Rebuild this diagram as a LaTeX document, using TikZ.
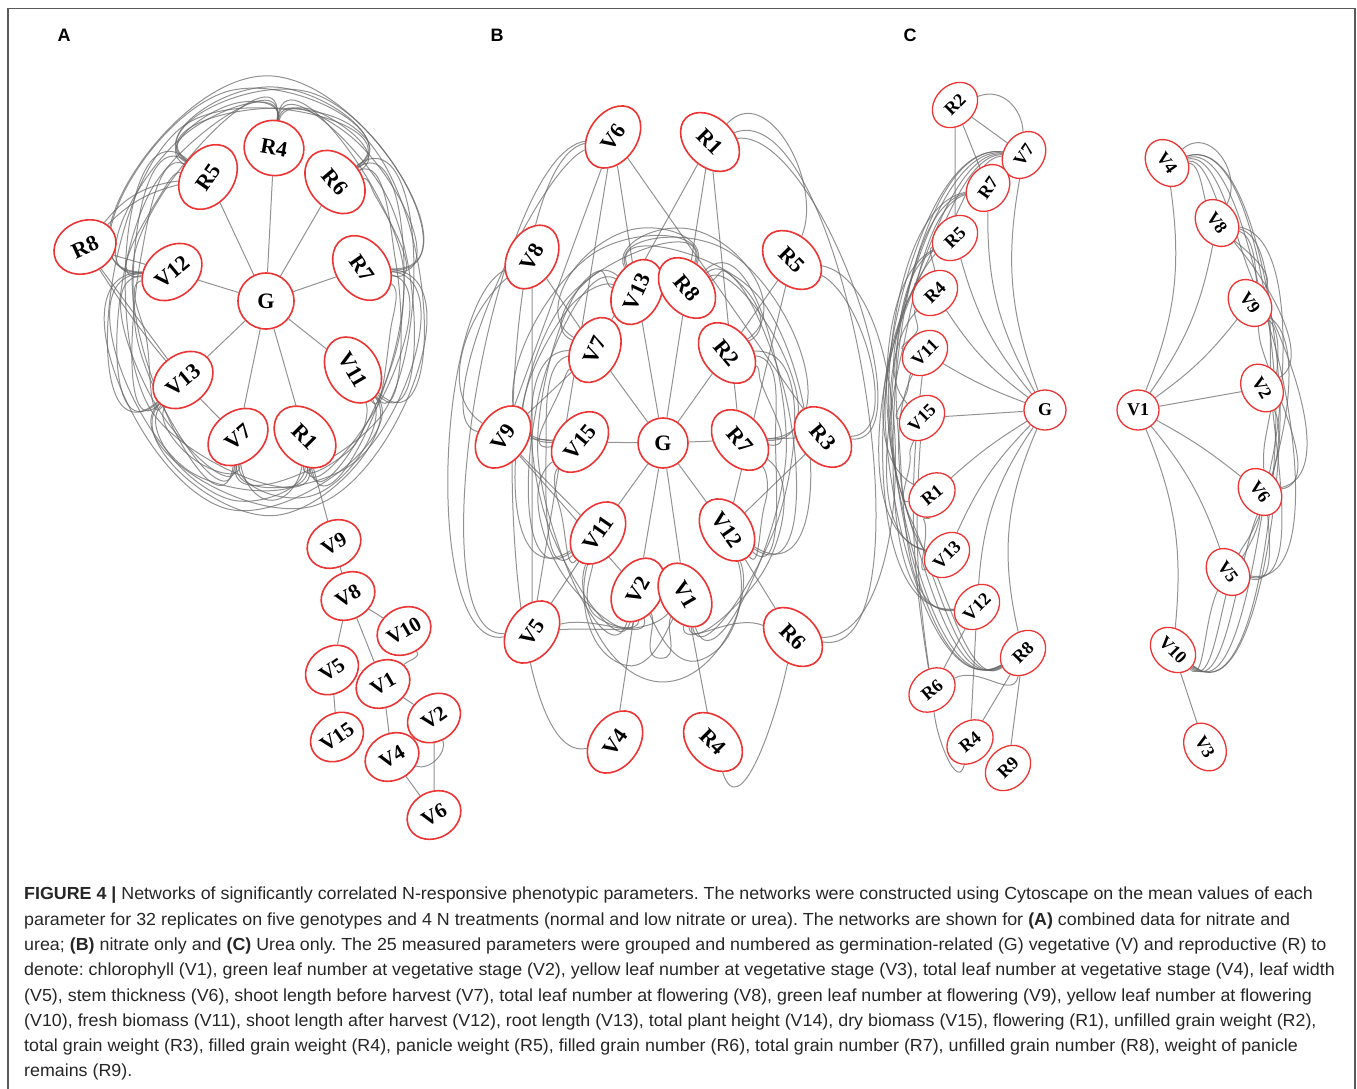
\documentclass[tikz,border=0pt]{standalone}
\usepackage{fontspec}
\setmainfont{Liberation Serif}
\newfontfamily\capfont{Liberation Sans}[FakeStretch=1.02]
\newfontfamily\lblfont{Liberation Sans}
\usetikzlibrary{shapes.geometric,calc}
\pgfdeclarelayer{background}
\pgfsetlayers{background,main}
\definecolor{nodered}{RGB}{236,52,52}
\definecolor{edgegray}{RGB}{100,100,100}
\definecolor{framegray}{RGB}{90,90,90}
\tikzset{
 nd/.style={ellipse, draw=nodered, line width=1.6pt, fill=white, inner sep=0pt, font=\bfseries\fontsize{22}{22}\selectfont},
 nA/.style={nd, minimum width=70pt, minimum height=52pt},
 nAs/.style={nd, minimum width=56pt, minimum height=46pt, font=\bfseries\fontsize{21}{21}\selectfont},
 nB/.style={nd, minimum width=68pt, minimum height=48pt},
 nC/.style={nd, minimum width=50pt, minimum height=40pt, line width=1.3pt, font=\bfseries\fontsize{18}{18}\selectfont},
 lnk/.style={draw=edgegray, line width=1pt, opacity=0.7},
 panel/.style={font=\lblfont\bfseries\fontsize{18}{18}\selectfont},
}
\def\reDelta{0}
\def\reLoose{1}
% ring edge: #1 centre, #2 node a, #3 angle a, #4 node b, #5 angle b, #6 rx, #7 ry, #8 scale
\newcommand\ringedge[8]{%
  \pgfmathsetmacro\reMid{(#3+#5)/2}%
  \pgfmathsetmacro\reIn{\reMid-90}%
  \pgfmathsetmacro\reOut{\reMid+90}%
  \pgfmathsetmacro\reA{#3+\reDelta}%
  \pgfmathsetmacro\reB{#5-\reDelta}%
  \pgfmathsetmacro\reRx{#6*#8}%
  \pgfmathsetmacro\reRy{#7*#8}%
  \draw[lnk] (#2) to[out=\reA,in=\reIn,looseness=\reLoose] ($(#1)+(\reMid:\reRx pt and \reRy pt)$) to[out=\reOut,in=\reB,looseness=\reLoose] (#4);%
}
\newcommand\Aedge[5]{\ringedge{oA}{#1}{#2}{#3}{#4}{135}{220}{#5}}
\newcommand\Bedge[5]{\ringedge{oB}{#1}{#2}{#3}{#4}{122}{237}{#5}}
\newcommand\CLedge[5]{\ringedge{oCL}{#1}{#2}{#3}{#4}{160}{270}{#5}}
\newcommand\CRedge[5]{\ringedge{oCR}{#1}{#2}{#3}{#4}{142}{268}{#5}}
\begin{document}
\begin{tikzpicture}[x=1pt,y=1pt]
\useasboundingbox (0,0) rectangle (1357,-1089);
\draw[framegray, line width=1.2pt] (8,-1095) -- (8,-8.5) -- (1355,-8.5) -- (1355,-1095);
\node[panel] (lA) at (64,-35) {A};
\node[panel] (lB) at (497,-35) {B};
\node[panel] (lC) at (910,-35) {C};
\coordinate (oA) at (268,-298);
\coordinate (oB) at (662,-445);
\coordinate (oCL) at (1045,-410);
\coordinate (oCR) at (1138,-410);
% ---------------- Panel A nodes
\node[nA, minimum width=56pt, minimum height=56pt] (aG) at (266,-301) {G};
\node[nA, rotate=-10, minimum width=60pt, minimum height=55pt] (aR4) at (274,-148) {R4};
\node[nA, rotate=55] (aR5) at (208,-177) {R5};
\node[nA, rotate=-50] (aR6) at (335,-182) {R6};
\node[nA, rotate=-55] (aR7) at (362,-268) {R7};
\node[nA, rotate=25, minimum width=64pt] (aR8) at (85,-247) {R8};
\node[nA, rotate=40, minimum width=66pt, minimum height=50pt] (aV12) at (172,-272) {V12};
\node[nA, rotate=40, minimum width=66pt, minimum height=50pt] (aV13) at (183,-380) {V13};
\node[nA, rotate=-60] (aV11) at (353,-370) {V11};
\node[nA, rotate=40, minimum width=66pt, minimum height=50pt] (aV7) at (238,-437) {V7};
\node[nA, rotate=-45] (aR1) at (305,-437) {R1};
\node[nAs, rotate=30] (aV9) at (334,-544) {V9};
\node[nAs, rotate=30] (aV8) at (348,-596) {V8};
\node[nAs, rotate=30] (aV10) at (404,-631) {V10};
\node[nAs, rotate=35] (aV5) at (332,-670) {V5};
\node[nAs, rotate=30] (aV1) at (383,-684) {V1};
\node[nAs, rotate=35] (aV2) at (434,-718) {V2};
\node[nAs, rotate=35] (aV15) at (337,-737) {V15};
\node[nAs, rotate=30] (aV4) at (392,-757) {V4};
\node[nAs, rotate=30] (aV6) at (434,-815) {V6};
% ---------------- Panel B nodes
\node[nB, rotate=55] (bV6) at (613,-137) {V6};
\node[nB, rotate=-45] (bR1) at (710,-142) {R1};
\node[nB, rotate=60] (bV8) at (532,-257) {V8};
\node[nB, rotate=-45] (bR5) at (792,-260) {R5};
\node[nB, rotate=65] (bV13) at (637,-292) {V13};
\node[nB, rotate=-50] (bR8) at (687,-288) {R8};
\node[nB, rotate=65] (bV7) at (595,-350) {V7};
\node[nB, rotate=-50] (bR2) at (727,-353) {R2};
\node[nB, rotate=55] (bV9) at (503,-437) {V9};
\node[nB, rotate=50] (bV15) at (580,-442) {V15};
\node[nB, minimum width=50pt, minimum height=50pt] (bG) at (663,-443) {G};
\node[nB, rotate=-50] (bR7) at (740,-440) {R7};
\node[nB, rotate=-50] (bR3) at (823,-437) {R3};
\node[nB, rotate=55] (bV11) at (598,-533) {V11};
\node[nB, rotate=-55] (bV12) at (727,-530) {V12};
\node[nB, rotate=60] (bV2) at (638,-590) {V2};
\node[nB, rotate=-60] (bV1) at (685,-595) {V1};
\node[nB, rotate=55] (bV5) at (532,-632) {V5};
\node[nB, rotate=-45] (bR6) at (793,-637) {R6};
\node[nB, rotate=55] (bV4) at (615,-742) {V4};
\node[nB, rotate=-45] (bR4) at (713,-742) {R4};
% ---------------- Panel C nodes
\node[nC, rotate=45] (cR2) at (955,-105) {R2};
\node[nC, rotate=55] (cV7) at (1024,-155) {V7};
\node[nC, rotate=55] (cR7) at (988,-188) {R7};
\node[nC, rotate=45] (cR5) at (955,-238) {R5};
\node[nC, rotate=45] (cR4) at (935,-293) {R4};
\node[nC, rotate=45] (cV11) at (925,-353) {V11};
\node[nC, rotate=45] (cV15) at (922,-418) {V15};
\node[nC, minimum width=42pt, minimum height=40pt] (cG) at (1045,-410) {G};
\node[nC, rotate=40] (cR1) at (932,-495) {R1};
\node[nC, rotate=45] (cV13) at (947,-555) {V13};
\node[nC, rotate=45] (cV12) at (977,-607) {V12};
\node[nC, rotate=45] (cR8) at (1023,-653) {R8};
\node[nC, rotate=40] (cR6) at (932,-690) {R6};
\node[nC, rotate=40] (cR4b) at (970,-742) {R4};
\node[nC, rotate=45] (cR9) at (1008,-768) {R9};
\node[nC, minimum width=42pt, minimum height=40pt] (cV1) at (1138,-410) {V1};
\node[nC, rotate=-55] (cV4) at (1167,-163) {V4};
\node[nC, rotate=-55] (cV8) at (1217,-223) {V8};
\node[nC, rotate=-55] (cV9) at (1250,-303) {V9};
\node[nC, rotate=-60] (cV2) at (1262,-388) {V2};
\node[nC, rotate=-55] (cV6) at (1260,-492) {V6};
\node[nC, rotate=-55] (cV5) at (1228,-572) {V5};
\node[nC, rotate=-45] (cV10) at (1173,-650) {V10};
\node[nC, rotate=-60] (cV3) at (1205,-747) {V3};
% ---------------- caption
\node[anchor=north west, inner sep=0pt, align=left, text=black!85, font=\capfont\fontsize{17.5}{25.3}\selectfont\frenchspacing] (cap) at (24,-887) {%
\textbf{FIGURE 4 |} Networks of significantly correlated N-responsive phenotypic parameters. The networks were constructed using Cytoscape on the mean values of each\\
parameter for 32 replicates on five genotypes and 4 N treatments (normal and low nitrate or urea). The networks are shown for \textbf{(A)} combined data for nitrate and\\
urea; \textbf{(B)} nitrate only and \textbf{(C)} Urea only. The 25 measured parameters were grouped and numbered as germination-related (G) vegetative (V) and reproductive (R) to\\
denote: chlorophyll (V1), green leaf number at vegetative stage (V2), yellow leaf number at vegetative stage (V3), total leaf number at vegetative stage (V4), leaf width\\
(V5), stem thickness (V6), shoot length before harvest (V7), total leaf number at flowering (V8), green leaf number at flowering (V9), yellow leaf number at flowering\\
(V10), fresh biomass (V11), shoot length after harvest (V12), root length (V13), total plant height (V14), dry biomass (V15), flowering (R1), unfilled grain weight (R2),\\
total grain weight (R3), filled grain weight (R4), panicle weight (R5), filled grain number (R6), total grain number (R7), unfilled grain number (R8), weight of panicle\\
remains (R9).};
% ================= edges
\begin{pgfonlayer}{background}
% ---- Panel A
\foreach \n in {aR4,aR5,aR6,aR7,aV12,aV13,aV11,aV7,aR1} \draw[lnk] (aG) -- (\n);
\def\reDelta{0}\def\reLoose{1}
\Aedge{aV11}{-29}{aR7}{12}{0.92}
\Aedge{aR7}{12}{aR6}{49}{0.92}
\Aedge{aR6}{49}{aR4}{86.5}{0.92}
\Aedge{aR4}{86.5}{aR5}{127}{0.92}
\Aedge{aR5}{127}{aV12}{170}{0.92}
\Aedge{aV12}{170}{aV13}{212}{0.92}
\Aedge{aV13}{212}{aV7}{252}{0.92}
\Aedge{aV7}{252}{aR1}{292}{0.92}
\Aedge{aR1}{292}{aV11}{331}{0.92}
\Aedge{aV11}{-29}{aR6}{49}{0.96}
\Aedge{aR7}{12}{aR4}{86.5}{0.96}
\Aedge{aR6}{49}{aR5}{127}{0.96}
\Aedge{aR4}{86.5}{aV12}{170}{0.96}
\Aedge{aR5}{127}{aV13}{212}{0.96}
\Aedge{aV12}{170}{aV7}{252}{0.96}
\Aedge{aV13}{212}{aR1}{292}{0.96}
\Aedge{aV7}{252}{aV11}{331}{0.96}
\Aedge{aR1}{292}{aR7}{372}{0.96}
\Aedge{aV11}{-29}{aR4}{86.5}{0.99}
\Aedge{aR7}{12}{aR5}{127}{0.99}
\Aedge{aR6}{49}{aV12}{170}{0.99}
\Aedge{aR4}{86.5}{aV13}{212}{0.99}
\Aedge{aR5}{127}{aV7}{252}{0.99}
\Aedge{aV12}{170}{aR1}{292}{0.99}
\Aedge{aV13}{212}{aV11}{331}{0.99}
\Aedge{aV7}{252}{aR7}{372}{0.99}
\Aedge{aR1}{292}{aR6}{409}{0.99}
\Aedge{aV11}{-29}{aR5}{127}{1.01}
\Aedge{aR7}{12}{aV12}{170}{1.01}
\Aedge{aR6}{49}{aV13}{212}{1.01}
\Aedge{aR4}{86.5}{aV7}{252}{1.01}
\Aedge{aR5}{127}{aR1}{292}{1.01}
\Aedge{aV12}{170}{aV11}{331}{1.01}
\Aedge{aV13}{212}{aR7}{372}{1.01}
\Aedge{aV7}{252}{aR6}{409}{1.01}
\Aedge{aR1}{292}{aR4}{446.5}{1.01}
\draw[lnk] (aR8) -- (aV12);
\draw[lnk] (aR8) to[bend left=15] (aR5);
\draw[lnk] (aR8) to[bend left=22] (aR5);
\draw[lnk] (aR8) -- (aV13);
\draw[lnk] (aR8) to[bend right=6] (aV7);
\draw[lnk] (aR1) -- (aV9);
\draw[lnk] (aV9) -- (aV8);
\draw[lnk] (aV8) -- (aV10);
\draw[lnk] (aV8) -- (aV5);
\draw[lnk] (aV8) -- (aV1);
\draw[lnk] (aV5) -- (aV15);
\draw[lnk] (aV1) -- (aV4);
\draw[lnk] (aV1) -- (aV2);
\draw[lnk] (aV10) to[out=-80,in=20] (aV1);
\draw[lnk] (aV2) -- (aV6);
\draw[lnk] (aV4) -- (aV6);
\draw[lnk] (aV4) to[out=-40,in=-90] (aV2);
% ---- Panel B
\foreach \n in {bV13,bR8,bV7,bR2,bV15,bR7,bV11,bV12,bV2,bV1} \draw[lnk] (bG) -- (\n);
\def\reDelta{15}\def\reLoose{1}
\Bedge{bV13}{107.6}{bV7}{143.9}{0.9}
\Bedge{bV13}{107.6}{bV15}{178.9}{0.96}
\Bedge{bV13}{107.6}{bV11}{215.3}{1.0}
\Bedge{bV13}{107.6}{bV2}{252.2}{1.02}
\Bedge{bR2}{36}{bV13}{107.6}{0.95}
\Bedge{bR7}{1.9}{bV13}{107.6}{0.99}
\Bedge{bV12}{-34}{bV13}{107.6}{1.02}
\Bedge{bR8}{72.8}{bV7}{143.9}{0.95}
\Bedge{bR8}{72.8}{bV15}{178.9}{0.99}
\Bedge{bR8}{72.8}{bV11}{215.3}{1.01}
\Bedge{bR2}{36}{bR8}{72.8}{0.9}
\Bedge{bR7}{1.9}{bR8}{72.8}{0.96}
\Bedge{bV12}{-34}{bR8}{72.8}{1.0}
\Bedge{bV1}{-73.4}{bR8}{72.8}{1.02}
\Bedge{bV15}{178.9}{bV2}{252.2}{0.97}
\Bedge{bV11}{215.3}{bV2}{252.2}{0.9}
\Bedge{bV7}{143.9}{bV2}{252.2}{1.0}
\Bedge{bV2}{252.2}{bV1}{286.6}{0.9}
\Bedge{bV2}{252.2}{bV12}{326}{0.96}
\Bedge{bV11}{215.3}{bV1}{286.6}{0.98}
\Bedge{bV11}{215.3}{bV12}{326}{1.0}
\Bedge{bV1}{-73.4}{bR7}{1.9}{0.97}
\Bedge{bV1}{-73.4}{bR2}{36}{1.0}
\Bedge{bV12}{-34}{bR2}{36}{0.93}
\Bedge{bV7}{143.9}{bV15}{178.9}{0.85}
\Bedge{bR7}{1.9}{bR2}{36}{0.85}
\Bedge{bV15}{178.9}{bV11}{215.3}{0.88}
\Bedge{bV12}{-34}{bR7}{1.9}{0.88}
\Bedge{bV7}{143.9}{bV11}{215.3}{0.95}
\draw[lnk] (bV9) -- (bV15);
\draw[lnk] (bR7) -- (bR3);
\draw[lnk] (bV6) -- (bV13);
\draw[lnk] (bV6) -- (bR3);
\draw[lnk] (bV6) -- (bV9);
\draw[lnk] (bV6) -- (bV5);
\draw[lnk] (bR1) -- (bV7);
\draw[lnk] (bR1) -- (bR8);
\draw[lnk] (bR1) -- (bR7);
\draw[lnk] (bV8) -- (bV7);
\draw[lnk] (bV8) -- (bV5);
\draw[lnk] (bR5) -- (bR2);
\draw[lnk] (bR5) -- (bV12);
\draw[lnk] (bV9) -- (bV11);
\draw[lnk] (bV9) -- (bV2);
\draw[lnk] (bV9) -- (bV7);
\draw[lnk] (bV5) -- (bV11);
\draw[lnk] (bR3) -- (bV12);
\draw[lnk] (bV12) -- (bR6);
\draw[lnk] (bV2) -- (bV4);
\draw[lnk] (bV1) -- (bR4);
\draw[lnk] (bR6) to[out=180,in=-70] (bV1);
\draw[lnk] (bV5) to[out=-10,in=-100] (bV2);
\draw[lnk] (bV5) to[out=-20,in=-110] (bV1);
\draw[lnk] (bV6) to[out=180,in=180,looseness=0.45] (bV4);
\draw[lnk] (bV6) to[out=175,in=170,looseness=0.5] (bV5);
\draw[lnk] (bV6) to[out=185,in=150,looseness=0.5] (bV9);
\draw[lnk] (bV8) to[out=190,in=175,looseness=0.6] (bV5);
\draw[lnk] (bV8) to[out=200,in=130] (bV9);
\draw[lnk] (bR1) to[out=60,in=80,looseness=1.2] (bR5);
\draw[lnk] (bR1) to[out=20,in=10,looseness=0.65] (bR3);
\draw[lnk] (bR1) to[out=30,in=0,looseness=0.6] (bR6);
\draw[lnk] (bR5) to[out=-10,in=20,looseness=0.8] (bR3);
\draw[lnk] (bR5) to[out=0,in=10,looseness=0.7] (bR6);
\draw[lnk] (bR6) to[out=-90,in=-60,looseness=1.3] (bR4);
% ---- Panel C left
\draw[lnk] (cG) to[bend left=15] (cV7);
\draw[lnk] (cG) to[bend left=15] (cR7);
\draw[lnk] (cG) to[bend left=12] (cR5);
\draw[lnk] (cG) to[bend left=10] (cR4);
\draw[lnk] (cG) to[bend left=5] (cV11);
\draw[lnk] (cG) -- (cV15);
\draw[lnk] (cG) to[bend right=5] (cR1);
\draw[lnk] (cG) to[bend right=10] (cV13);
\draw[lnk] (cG) to[bend right=15] (cV12);
\draw[lnk] (cG) to[bend right=18] (cR8);
\def\reDelta{60}\def\reLoose{0.75}
\CLedge{cV7}{99.5}{cR8}{259.5}{1.0}
\CLedge{cV7}{99.5}{cR8}{259.5}{0.96}
\CLedge{cV7}{99.5}{cV12}{234.9}{0.98}
\CLedge{cV7}{99.5}{cV13}{216}{0.95}
\CLedge{cV7}{99.5}{cR1}{200.2}{0.93}
\CLedge{cR7}{117.6}{cR8}{259.5}{0.97}
\CLedge{cR7}{117.6}{cV12}{234.9}{0.94}
\CLedge{cR7}{117.6}{cV13}{216}{0.92}
\CLedge{cR5}{136.9}{cR8}{259.5}{0.95}
\CLedge{cR5}{136.9}{cV12}{234.9}{0.92}
\CLedge{cR4}{152.5}{cR8}{259.5}{0.93}
\CLedge{cV11}{166.9}{cR8}{259.5}{0.92}
\CLedge{cV7}{99.5}{cV15}{181.8}{0.9}
\def\reDelta{30}
\CLedge{cR4}{152.5}{cV11}{166.9}{0.85}
\CLedge{cV11}{166.9}{cV15}{181.8}{0.86}
\CLedge{cV15}{181.8}{cR1}{200.2}{0.86}
\CLedge{cR1}{200.2}{cV13}{216}{0.86}
\CLedge{cR5}{136.9}{cR4}{152.5}{0.85}
\draw[lnk] (cR2) -- (cV7);
\draw[lnk] (cR2) to[out=0,in=70,looseness=1.2] (cV7);
\draw[lnk] (cR2) -- (cR7);
\draw[lnk] (cR2) -- (cR5);
\draw[lnk] (cR6) -- (cV12);
\draw[lnk] (cR6) to[bend left=6] (cV15);
\draw[lnk] (cR6) to[bend left=8] (cV11);
\draw[lnk] (cR6) to[out=10,in=-120] (cR8);
\draw[lnk] (cR6) to[out=-100,in=-120,looseness=1.3] (cR4b);
\draw[lnk] (cR4b) -- (cR8);
\draw[lnk] (cR8) -- (cR9);
\draw[lnk] (cV12) -- (cR4b);
% ---- Panel C right
\draw[lnk] (cV1) to[bend right=15] (cV4);
\draw[lnk] (cV1) to[bend right=12] (cV8);
\draw[lnk] (cV1) to[bend right=8] (cV9);
\draw[lnk] (cV1) -- (cV2);
\draw[lnk] (cV1) to[bend left=5] (cV6);
\draw[lnk] (cV1) to[bend left=10] (cV5);
\draw[lnk] (cV1) to[bend left=14] (cV10);
\def\reDelta{45}\def\reLoose{0.75}
\CRedge{cV10}{-73.7}{cV4}{76.8}{1.0}
\CRedge{cV10}{-73.7}{cV4}{76.8}{0.97}
\CRedge{cV10}{-73.7}{cV8}{49.8}{0.96}
\CRedge{cV10}{-73.7}{cV9}{25.5}{0.93}
\CRedge{cV5}{-42}{cV4}{76.8}{0.98}
\CRedge{cV5}{-42}{cV8}{49.8}{0.94}
\CRedge{cV6}{-18.6}{cV4}{76.8}{0.95}
\CRedge{cV6}{-18.6}{cV8}{49.8}{0.9}
\CRedge{cV2}{5}{cV4}{76.8}{0.93}
\CRedge{cV10}{-73.7}{cV2}{5}{0.9}
\CRedge{cV9}{25.5}{cV4}{76.8}{0.88}
\CRedge{cV10}{-73.7}{cV6}{-18.6}{0.88}
\CRedge{cV5}{-42}{cV9}{25.5}{0.9}
\draw[lnk] (cV4) to[out=60,in=80,looseness=1.5] (cV8);
\draw[lnk] (cV10) -- (cV3);
\end{pgfonlayer}
\end{tikzpicture}
\end{document}
